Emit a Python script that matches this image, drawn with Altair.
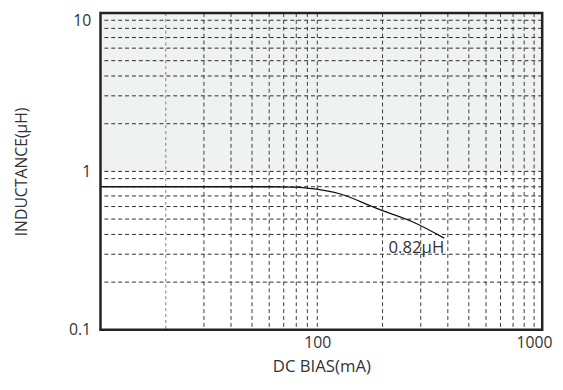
import altair as alt
import pandas as pd

# Curve: DC bias (mA) vs inductance (uH)
curve_x = [10, 20, 40, 60, 77, 90, 128, 180, 200, 273, 385]
curve_y = [0.8, 0.8, 0.8, 0.8, 0.796, 0.785, 0.72, 0.598, 0.565, 0.483, 0.379]

# grid lines
h_grid = [0.2, 0.3, 0.4, 0.5, 0.6, 0.7, 0.8, 0.9, 1, 2, 3, 4, 5, 6, 7, 8, 9]
v_grid_dark = [30, 40, 50, 60, 70, 80, 90, 100, 200, 300, 400, 500, 600, 700, 800, 900, 1000]
v_grid_light = [20]

# shaded band
band_low = [1]
band_high = [10]

# annotation
label_text = ["0.82μH"]
label_x = [385]
label_y = [0.33]

x_ticks = [100, 1000]
y_ticks = [0.1, 1, 10]

FONT = "Open Sans"
W, H = 449, 322

xs = alt.Scale(type="log", domain=[10, 1090], nice=False)
ys = alt.Scale(type="log", domain=[0.1, 10], nice=False)

band_df = pd.DataFrame({"lo": band_low, "hi": band_high})
band = alt.Chart(band_df).mark_rect(color="#f0f1f1").encode(
    x=alt.value(0), x2=alt.value(W),
    y=alt.Y("lo:Q", scale=ys), y2="hi:Q",
)

hg = alt.Chart(pd.DataFrame({"v": h_grid})).mark_rule(
    color="#2a2a2a", strokeWidth=1, strokeDash=[4, 3]
).encode(y=alt.Y("v:Q", scale=ys))

vg = alt.Chart(pd.DataFrame({"v": v_grid_dark})).mark_rule(
    color="#3a3a3a", strokeWidth=1, strokeDash=[4, 3]
).encode(x=alt.X("v:Q", scale=xs))

vg2 = alt.Chart(pd.DataFrame({"v": v_grid_light})).mark_rule(
    color="#999", strokeWidth=1.3, strokeDash=[3, 3]
).encode(x=alt.X("v:Q", scale=xs))

curve_df = pd.DataFrame({"x": curve_x, "y": curve_y})
line = alt.Chart(curve_df).mark_line(
    color="#111", strokeWidth=1.3, interpolate="monotone"
).encode(
    x=alt.X(
        "x:Q", scale=xs,
        axis=alt.Axis(
            values=x_ticks, format="d", title="DC BIAS(mA)", grid=False,
            ticks=False, domain=False, labelFontSize=16, labelFont=FONT,
            labelColor="#333", labelPadding=5, titleFont=FONT, titleFontSize=17,
            titleFontWeight="normal", titleColor="#333", titlePadding=8,
        ),
    ),
    y=alt.Y(
        "y:Q", scale=ys,
        axis=alt.Axis(
            values=y_ticks, title="INDUCTANCE(μH)", grid=False, ticks=False,
            domain=False, labelFontSize=16, labelFont=FONT, labelColor="#333",
            labelPadding=10, labelExpr="datum.value >= 1 ? format(datum.value, 'd') : format(datum.value, '.1f')",
            labelBaseline={"condition": {"test": "datum.value == 10", "value": "top"}, "value": "middle"},
            titleFont=FONT, titleFontSize=16, titleFontWeight="normal", titleColor="#333",
            titleX=-80, titleY=H / 2, titleBaseline="middle",
        ),
    ),
)

lbl_df = pd.DataFrame({"t": label_text, "x": label_x, "y": label_y})
lbl = alt.Chart(lbl_df).mark_text(
    align="right", baseline="middle", fontSize=17, font=FONT, color="#333"
).encode(x=alt.X("x:Q", scale=xs), y=alt.Y("y:Q", scale=ys), text="t:N")

frame = alt.Chart(pd.DataFrame({"k": [0]})).mark_rect(
    filled=False, stroke="#222", strokeWidth=2.5
).encode(x=alt.value(0), x2=alt.value(W), y=alt.value(0), y2=alt.value(H))

chart = alt.layer(band, hg, vg, vg2, line, lbl, frame).properties(
    width=W, height=H,
    autosize=alt.AutoSizeParams(type="none"),
    padding={"left": 94, "top": 2, "right": 13, "bottom": 52},
).configure_view(stroke=None).configure(background="white")

chart.save("out.html", embed_options={"renderer": "svg", "actions": False})
